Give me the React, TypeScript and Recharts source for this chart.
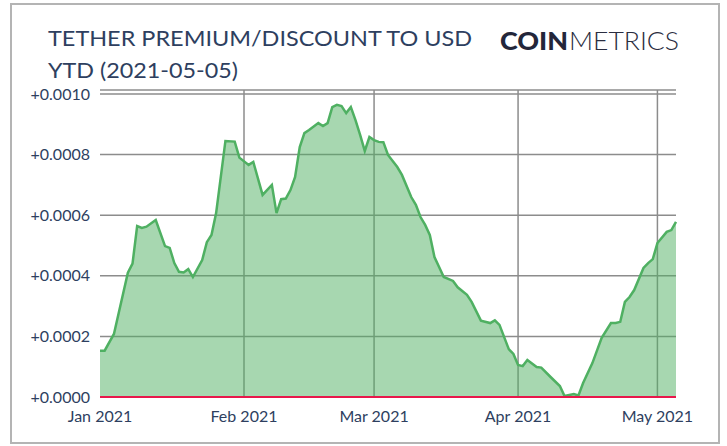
import React from "react";
import {
  AreaChart,
  Area,
  XAxis,
  YAxis,
  CartesianGrid,
  ReferenceLine,
} from "recharts";

// days since 2021-01-01
const days = [
  0, 1, 3, 6, 7, 8, 9, 10, 12, 14, 15, 16, 17, 18, 19, 20, 22, 23, 24, 25, 27,
  29, 30, 32, 33, 35, 37, 38, 39, 40, 41, 42, 43, 44, 45, 47, 48, 49, 50, 51,
  52, 53, 54, 55, 56, 57, 58, 59, 60, 61, 62, 64, 65, 67, 68, 69, 70, 71, 72,
  73, 74, 76, 77, 79, 80, 82, 84, 85, 86, 88, 89, 90, 91, 92, 94, 95, 97, 99,
  100, 102, 103, 104, 106, 108, 110, 111, 112, 113, 114, 115, 117, 118, 119,
  120, 122, 123, 124,
];

// USDT premium / discount vs USD
const premium = [
  0.000153, 0.000153, 0.000208, 0.00041, 0.00044, 0.000564, 0.000558, 0.000562,
  0.000584, 0.000498, 0.000492, 0.000442, 0.000413, 0.000411, 0.000422,
  0.000396, 0.000452, 0.000511, 0.000535, 0.000607, 0.000845, 0.000843,
  0.00079, 0.000766, 0.000776, 0.000667, 0.0007, 0.000607, 0.000653, 0.000655,
  0.000683, 0.000726, 0.000825, 0.000871, 0.000881, 0.000904, 0.000894,
  0.000904, 0.000957, 0.000964, 0.00096, 0.000937, 0.000957, 0.000914,
  0.000865, 0.000812, 0.000858, 0.000848, 0.000842, 0.000841, 0.000799,
  0.000759, 0.000733, 0.00066, 0.000634, 0.000594, 0.000568, 0.000535,
  0.000462, 0.000429, 0.000396, 0.000383, 0.000362, 0.000337, 0.000314,
  0.000252, 0.000244, 0.000253, 0.000238, 0.000158, 0.000142, 0.000106,
  0.000102, 0.000122, 0.000099, 0.000097, 0.000066, 0.000036, 0.000003,
  0.00001, 0.000005, 0.000046, 0.000112, 0.000195, 0.000244, 0.000244,
  0.000248, 0.000314, 0.00033, 0.000353, 0.000426, 0.000442, 0.000455,
  0.000508, 0.000545, 0.000551, 0.000578,
];

const xTicks = [0, 31, 59, 90, 120];
const xTickLabels = ["Jan 2021", "Feb 2021", "Mar 2021", "Apr 2021", "May 2021"];
const yTicks = [0, 0.0002, 0.0004, 0.0006, 0.0008, 0.001];

const data = days.map((d, i) => ({ day: d, premium: premium[i] }));

const NAVY = "#2e3f5f";
const GREEN = "#4fb062";

export default function App() {
  return (
    <div
      style={{
        position: "absolute",
        left: 0,
        top: 0,
        width: 727,
        height: 446,
        background: "#fff",
        fontFamily: "Lato, sans-serif",
      }}
    >
      <div
        style={{
          position: "absolute",
          left: 10,
          top: 3,
          width: 706,
          height: 437,
          border: "2px solid #b4b4b4",
        }}
      />
      <svg
        width={727}
        height={90}
        style={{ position: "absolute", left: 0, top: 0 }}
      >
        <text
          x={48}
          y={46}
          fontSize={21}
          fill={NAVY}
          fontFamily="Lato"
          textLength={424}
          lengthAdjust="spacingAndGlyphs"
        >
          TETHER PREMIUM/DISCOUNT TO USD
        </text>
        <text
          x={48}
          y={78}
          fontSize={21}
          fill={NAVY}
          fontFamily="Lato"
          textLength={190}
          lengthAdjust="spacingAndGlyphs"
        >
          YTD (2021-05-05)
        </text>
        <text
          x={500}
          y={50}
          fontSize={25}
          fill="#23263a"
          fontFamily="Lato"
          fontWeight={900}
          textLength={68}
          lengthAdjust="spacingAndGlyphs"
        >
          COIN
        </text>
        <text
          x={569}
          y={50}
          fontSize={25}
          fill="#2a2d40"
          fontFamily="Lato"
          fontWeight={300}
          textLength={110}
          lengthAdjust="spacingAndGlyphs"
        >
          METRICS
        </text>
      </svg>
      <div style={{ position: "absolute", left: 0, top: 0 }}>
        <AreaChart
          width={727}
          height={446}
          data={data}
          margin={{ top: 90, right: 51, bottom: 0, left: 0 }}
        >
          <CartesianGrid
            stroke="#8c8c8c"
            strokeWidth={1.5}
            verticalValues={xTicks.slice(1)}
          />
          <XAxis
            dataKey="day"
            type="number"
            domain={[0, 124]}
            ticks={xTicks}
            interval={0}
            tickFormatter={(v) => xTickLabels[xTicks.indexOf(v)] ?? ""}
            axisLine={false}
            tickLine={false}
            tickMargin={8}
            height={49}
            tick={{ fill: NAVY, fontSize: 16, fontFamily: "Lato" }}
          />
          <YAxis
            type="number"
            domain={[0, 0.0010132]}
            ticks={yTicks}
            interval={0}
            tickFormatter={(v) => "+" + Number(v).toFixed(4)}
            axisLine={false}
            tickLine={false}
            tickMargin={4}
            width={100}
            tick={{ fill: NAVY, fontSize: 16, fontFamily: "Lato" }}
          />
          <Area
            type="linear"
            dataKey="premium"
            stroke={GREEN}
            strokeWidth={2.5}
            fill={GREEN}
            fillOpacity={0.5}
            isAnimationActive={false}
            dot={false}
            activeDot={false}
          />
          <ReferenceLine y={0} stroke="#e8174b" strokeWidth={2} />
        </AreaChart>
      </div>
    </div>
  );
}
